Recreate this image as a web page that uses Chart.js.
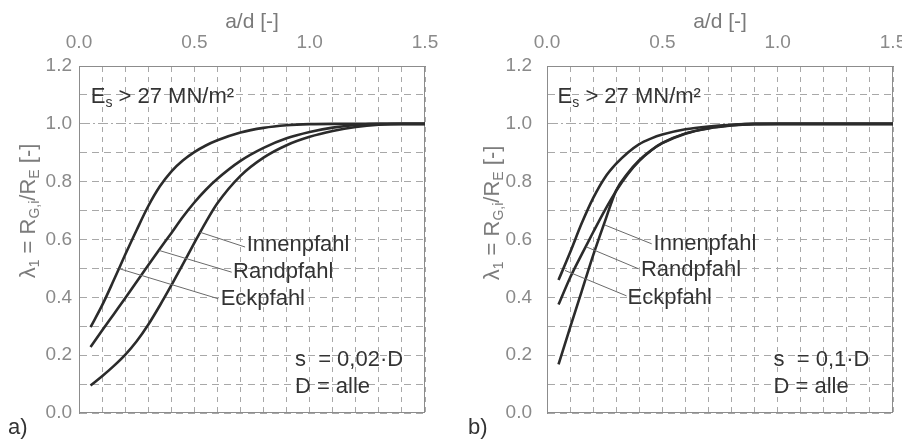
<!DOCTYPE html>
<html>
<head>
<meta charset="utf-8">
<script src="https://cdn.jsdelivr.net/npm/chart.js@4.4.1/dist/chart.umd.min.js"></script>
<style>
  html, body { margin: 0; padding: 0; background: #fff; }
  #wrap { position: relative; width: 902px; height: 441px; overflow: hidden; }
  canvas { position: absolute; top: 0; }
  #cA { left: 0; }
  #cB { left: 451px; }
</style>
</head>
<body>
<div id="wrap">
  <canvas id="cA" width="451" height="441"></canvas>
  <canvas id="cB" width="451" height="441"></canvas>
</div>
<script>
// a) s = 0,02·D
const adA    = [0.05, 0.1, 0.15, 0.2, 0.25, 0.3, 0.35, 0.4, 0.45, 0.5, 0.55, 0.6, 0.7, 0.8, 0.9, 1.0, 1.1, 1.2, 1.3, 1.4, 1.5];
const eckA   = [0.297, 0.372, 0.458, 0.547, 0.633, 0.715, 0.783, 0.835, 0.873, 0.902, 0.925, 0.943, 0.97, 0.986, 0.995, 0.999, 1.0, 1.0, 1.0, 1.0, 1.0];
const randA  = [0.228, 0.285, 0.341, 0.397, 0.454, 0.511, 0.567, 0.622, 0.678, 0.728, 0.772, 0.81, 0.872, 0.917, 0.95, 0.972, 0.987, 0.996, 1.0, 1.0, 1.0];
const innenA = [0.095, 0.127, 0.162, 0.201, 0.248, 0.305, 0.371, 0.441, 0.514, 0.588, 0.66, 0.725, 0.82, 0.883, 0.926, 0.955, 0.975, 0.989, 0.997, 1.0, 1.0];

// b) s = 0,1·D
const adB    = [0.05, 0.1, 0.15, 0.2, 0.25, 0.3, 0.35, 0.4, 0.45, 0.5, 0.6, 0.7, 0.8, 0.9, 1.0, 1.1, 1.2, 1.3, 1.4, 1.5];
const eckB   = [0.46, 0.555, 0.655, 0.743, 0.813, 0.862, 0.9, 0.93, 0.949, 0.963, 0.981, 0.991, 0.997, 1.0, 1.0, 1.0, 1.0, 1.0, 1.0, 1.0];
const randB  = [0.375, 0.468, 0.548, 0.625, 0.7, 0.768, 0.826, 0.872, 0.907, 0.933, 0.966, 0.984, 0.994, 0.999, 1.0, 1.0, 1.0, 1.0, 1.0, 1.0];
const innenB = [0.168, 0.295, 0.42, 0.545, 0.66, 0.77, 0.829, 0.874, 0.908, 0.934, 0.967, 0.985, 0.995, 1.0, 1.0, 1.0, 1.0, 1.0, 1.0, 1.0];

// beschriftete Achsenwerte
const xLabelTicks = [0, 0.5, 1.0, 1.5];
const yLabelTicks = [0, 0.2, 0.4, 0.6, 0.8, 1.0, 1.2];

const FONT = "'Liberation Sans', Arial, sans-serif";
const INK = '#333333';

function isIn(list, v) {
    return list.some(t => Math.abs(t - v) < 1e-6);
}

// Text mit Tiefstellungen: parts = [[text, tief?], ...]
function richText(ctx, parts, x, y, size, color, center) {
    const sub = Math.round(size * 0.62);
    let w = 0;
    parts.forEach(([t, s]) => { ctx.font = (s ? sub : size) + 'px ' + FONT; w += ctx.measureText(t).width; });
    let cx = center ? x - w / 2 : x;
    const base = y + size * 0.36;
    ctx.fillStyle = color;
    ctx.textAlign = 'left';
    ctx.textBaseline = 'alphabetic';
    parts.forEach(([t, s]) => {
        ctx.font = (s ? sub : size) + 'px ' + FONT;
        ctx.fillText(t, cx, s ? base + size * 0.2 : base);
        cx += ctx.measureText(t).width;
    });
}

function makeDecor(cfg) {
    return {
        id: 'decor',
        beforeDatasetsDraw(chart) {
            const { ctx, chartArea: a } = chart;
            ctx.save();
            ctx.strokeStyle = '#8c8c8c';
            ctx.lineWidth = 1;
            ctx.strokeRect(Math.round(a.left) + 0.5, Math.round(a.top) + 0.5,
                Math.round(a.width) - 1, Math.round(a.height) - 1);
            ctx.restore();
        },
        afterDraw(chart) {
            const { ctx, chartArea: a, scales: { x, y } } = chart;
            ctx.save();
            // Hinweislinien
            ctx.strokeStyle = '#6a6a6a';
            ctx.lineWidth = 1;
            cfg.leaders.forEach(l => {
                ctx.beginPath();
                ctx.moveTo(x.getPixelForValue(l[0]), y.getPixelForValue(l[1]));
                ctx.lineTo(x.getPixelForValue(l[2]), y.getPixelForValue(l[3]));
                ctx.stroke();
            });
            // Beschriftungen
            ctx.fillStyle = INK;
            ctx.font = '22px ' + FONT;
            ctx.textAlign = 'left';
            ctx.textBaseline = 'middle';
            cfg.notes.forEach(n => {
                ctx.fillText(n.text, x.getPixelForValue(n.x), y.getPixelForValue(n.y));
            });
            richText(ctx, [['E', false], ['s', true], [' > 27 MN/m²', false]],
                x.getPixelForValue(cfg.esPos[0]), y.getPixelForValue(cfg.esPos[1]), 22, INK, false);

            // y-Achsentitel (gedreht)
            ctx.save();
            ctx.translate(a.left - cfg.yTitleOffset, a.top + cfg.yTitleCenter);
            ctx.rotate(-Math.PI / 2);
            richText(ctx, [['λ', false], ['1', true], [' = R', false], ['G,i', true], ['/R', false], ['E', true], [' [-]', false]],
                0, 0, 22, '#7c7c7c', true);
            ctx.restore();

            // Teilbild
            ctx.fillStyle = INK;
            ctx.font = '22px ' + FONT;
            ctx.textBaseline = 'middle';
            ctx.fillText(cfg.panel, cfg.panelX, 428);
            ctx.restore();
        }
    };
}

function buildChart(id, cfg) {
    const datasets = cfg.series.map(s => ({
        label: s.name,
        data: cfg.ad.map((v, i) => ({ x: v, y: s.values[i] })),
        borderColor: '#2b2b2b',
        borderWidth: 2.6,
        pointRadius: 0,
        fill: false,
        cubicInterpolationMode: 'monotone'
    }));

    return new Chart(document.getElementById(id), {
        type: 'line',
        data: { datasets: datasets },
        options: {
            responsive: false,
            animation: false,
            devicePixelRatio: 1,
            layout: { padding: { left: 0, top: 0, right: cfg.padRight, bottom: 28 } },
            plugins: {
                legend: { display: false },
                tooltip: { enabled: false }
            },
            scales: {
                x: {
                    type: 'linear',
                    position: 'top',
                    min: 0,
                    max: 1.5,
                    afterFit: s => { s.height = 66; s.paddingLeft = 0; s.paddingRight = 0; },
                    ticks: {
                        stepSize: 0.1,
                        autoSkip: false,
                        maxRotation: 0,
                        minRotation: 0,
                        padding: 12,
                        color: '#8a8a8a',
                        font: { family: FONT, size: 19 },
                        callback: v => isIn(xLabelTicks, v) ? v.toFixed(1) : ''
                    },
                    grid: { color: '#a8a8a8', lineWidth: 1, drawTicks: false },
                    border: { display: true, color: '#8c8c8c', dash: [5, 5] },
                    title: {
                        display: true,
                        text: 'a/d [-]',
                        color: '#7a7a7a',
                        font: { family: FONT, size: 21 },
                        padding: { top: 10, bottom: 0 }
                    }
                },
                y: {
                    type: 'linear',
                    min: 0,
                    max: 1.2,
                    afterFit: s => { s.width = cfg.yWidth; s.paddingTop = 0; s.paddingBottom = 0; },
                    ticks: {
                        stepSize: 0.1,
                        autoSkip: false,
                        padding: cfg.yPad,
                        color: '#8a8a8a',
                        font: { family: FONT, size: 19 },
                        callback: v => isIn(yLabelTicks, v) ? v.toFixed(1) : ''
                    },
                    grid: { color: '#a8a8a8', lineWidth: 1, drawTicks: false },
                    border: {
                        display: true,
                        color: '#8c8c8c',
                        dash: c => (c.tick && Math.abs(c.tick.value - 1) < 1e-6) ? [10, 3, 2, 3] : [7, 5]
                    }
                }
            }
        },
        plugins: [makeDecor(cfg)]
    });
}

buildChart('cA', {
    ad: adA,
    series: [
        { name: 'Eckpfahl', values: eckA },
        { name: 'Randpfahl', values: randA },
        { name: 'Innenpfahl', values: innenA }
    ],
    padRight: 26,
    yWidth: 79,
    yPad: 7,
    yTitleOffset: 52,
    yTitleCenter: 145,
    panel: 'a)',
    panelX: 8,
    esPos: [0.051, 1.10],
    leaders: [
        [0.525, 0.625, 0.72, 0.574],
        [0.348, 0.562, 0.662, 0.487],
        [0.175, 0.499, 0.604, 0.395]
    ],
    notes: [
        { text: 'Innenpfahl', x: 0.727, y: 0.58 },
        { text: 'Randpfahl', x: 0.668, y: 0.488 },
        { text: 'Eckpfahl', x: 0.614, y: 0.396 },
        { text: 's  = 0,02·D', x: 0.936, y: 0.182 },
        { text: 'D = alle', x: 0.936, y: 0.09 }
    ]
});

buildChart('cB', {
    ad: adB,
    series: [
        { name: 'Eckpfahl', values: eckB },
        { name: 'Randpfahl', values: randB },
        { name: 'Innenpfahl', values: innenB }
    ],
    padRight: 9,
    yWidth: 96,
    yPad: 15,
    yTitleOffset: 56,
    yTitleCenter: 147,
    panel: 'b)',
    panelX: 17,
    esPos: [0.046, 1.10],
    leaders: [
        [0.251, 0.65, 0.454, 0.585],
        [0.172, 0.574, 0.396, 0.499],
        [0.078, 0.493, 0.345, 0.405]
    ],
    notes: [
        { text: 'Innenpfahl', x: 0.462, y: 0.586 },
        { text: 'Randpfahl', x: 0.407, y: 0.494 },
        { text: 'Eckpfahl', x: 0.349, y: 0.399 },
        { text: 's  = 0,1·D', x: 0.982, y: 0.182 },
        { text: 'D = alle', x: 0.982, y: 0.09 }
    ]
});
</script>
</body>
</html>
